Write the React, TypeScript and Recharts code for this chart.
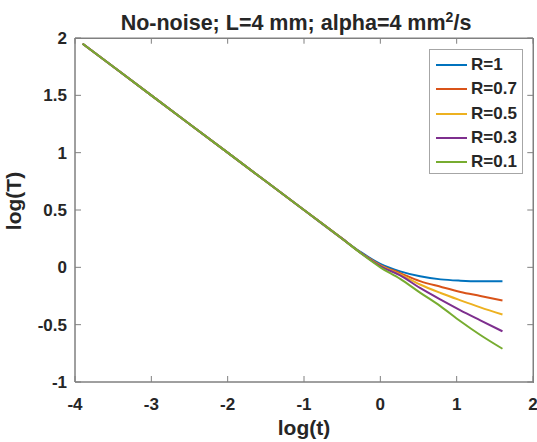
import React from 'react';
import { LineChart, Line, XAxis, YAxis, ReferenceArea, ReferenceLine } from 'recharts';

const xValues = [-3.9, -3, -2, -1, -0.5, -0.25, 0, 0.26, 0.52, 0.79, 1.05, 1.31, 1.6];
const r1 = [1.95, 1.5, 1.0, 0.5, 0.25, 0.13, 0.03, -0.035, -0.078, -0.105, -0.116, -0.121, -0.122];
const r07 = [1.95, 1.5, 1.0, 0.5, 0.25, 0.125, 0.02, -0.05, -0.12, -0.17, -0.215, -0.25, -0.29];
const r05 = [1.95, 1.5, 1.0, 0.5, 0.25, 0.123, 0.015, -0.062, -0.15, -0.224, -0.288, -0.349, -0.412];
const r03 = [1.95, 1.5, 1.0, 0.5, 0.25, 0.122, 0.01, -0.07, -0.18, -0.282, -0.375, -0.462, -0.558];
const r01 = [1.95, 1.5, 1.0, 0.5, 0.25, 0.12, 0.0, -0.1, -0.22, -0.34, -0.47, -0.59, -0.71];

const seriesNames = ['R=1', 'R=0.7', 'R=0.5', 'R=0.3', 'R=0.1'];
const seriesColors = ['#0072BD', '#D95319', '#EDB120', '#7E2F8E', '#77AC30'];
const seriesValues = [r1, r07, r05, r03, r01];

const xTicks = [-4, -3, -2, -1, 0, 1, 2];
const yTicks = [-1, -0.5, 0, 0.5, 1, 1.5, 2];
const xDomain: [number, number] = [-4, 2];
const yDomain: [number, number] = [-1, 2];

const data = xValues.map((x, i) => {
  const row: Record<string, number> = { x };
  seriesNames.forEach((n, k) => {
    row[n] = seriesValues[k][i];
  });
  return row;
});

const AXIS = '#808080';
const TEXT = '#262626';
const FONT = 'Liberation Sans, Arial, sans-serif';

const TOP_TICK_LEN = 0.05;
const RIGHT_TICK_LEN = 0.075;

const BottomTick = (props: any) => {
  const { x, y, payload } = props;
  return (
    <g>
      <path d={`M${x},${y}L${x},${y - 6}`} stroke={AXIS} strokeWidth={1} fill="none" />
      <text x={x} y={y + 28} textAnchor="middle" fontFamily={FONT} fontWeight="bold" fontSize={17} fill={TEXT}>
        {payload.value}
      </text>
    </g>
  );
};

const LeftTick = (props: any) => {
  const { x, y, payload } = props;
  return (
    <g>
      <path d={`M${x},${y}L${x + 6},${y}`} stroke={AXIS} strokeWidth={1} fill="none" />
      <text x={x - 8} y={y + 6} textAnchor="end" fontFamily={FONT} fontWeight="bold" fontSize={17} fill={TEXT}>
        {payload.value}
      </text>
    </g>
  );
};

const LegendBox = () => (
  <div
    style={{
      position: 'absolute',
      left: 429,
      top: 49,
      width: 94,
      height: 125,
      boxSizing: 'border-box',
      border: '1px solid #a6a6a6',
      background: '#fff',
    }}
  >
    {seriesNames.map((n, i) => (
      <div
        key={n}
        style={{
          position: 'absolute',
          left: 6,
          top: 4 + i * 24.3,
          height: 22,
          display: 'flex',
          alignItems: 'center',
        }}
      >
        <svg width={32} height={4} style={{ display: 'block' }}>
          <line x1={0} x2={31} y1={2} y2={2} stroke={seriesColors[i]} strokeWidth={2} />
        </svg>
        <span
          style={{
            marginLeft: 3,
            fontFamily: FONT,
            fontWeight: 'bold',
            fontSize: 17,
            color: TEXT,
            lineHeight: '22px',
          }}
        >
          {n}
        </span>
      </div>
    ))}
  </div>
);

export default function App() {
  return (
    <div style={{ position: 'absolute', left: 0, top: 0, width: 537, height: 442, background: '#fff' }}>
      <LineChart
        width={537}
        height={442}
        data={data}
        margin={{ top: 38, right: 4, bottom: 0, left: 0 }}
      >
        <XAxis
          dataKey="x"
          type="number"
          domain={xDomain}
          ticks={xTicks}
          allowDataOverflow
          height={60}
          tickSize={0}
          tickMargin={0}
          tickLine={false}
          axisLine={{ stroke: AXIS, strokeWidth: 1 }}
          tick={<BottomTick />}
          interval={0}
        />
        <YAxis
          type="number"
          domain={yDomain}
          ticks={yTicks}
          allowDataOverflow
          width={75}
          tickSize={0}
          tickMargin={0}
          tickLine={false}
          axisLine={{ stroke: AXIS, strokeWidth: 1 }}
          tick={<LeftTick />}
          interval={0}
        />
        <ReferenceArea
          x1={xDomain[0]}
          x2={xDomain[1]}
          y1={yDomain[0]}
          y2={yDomain[1]}
          fill="#ffffff"
          fillOpacity={0}
          stroke={AXIS}
          strokeWidth={1}
          ifOverflow="extendDomain"
        />
        {xTicks.map((t) => (
          <ReferenceLine
            key={'tx' + t}
            segment={[
              { x: t, y: yDomain[1] },
              { x: t, y: yDomain[1] - TOP_TICK_LEN },
            ]}
            stroke={AXIS}
            strokeWidth={1}
            ifOverflow="extendDomain"
          />
        ))}
        {yTicks.map((t) => (
          <ReferenceLine
            key={'ty' + t}
            segment={[
              { x: xDomain[1], y: t },
              { x: xDomain[1] - RIGHT_TICK_LEN, y: t },
            ]}
            stroke={AXIS}
            strokeWidth={1}
            ifOverflow="extendDomain"
          />
        ))}
        {seriesNames.map((n, k) => (
          <Line
            key={n}
            type="monotone"
            dataKey={n}
            name={n}
            stroke={seriesColors[k]}
            strokeWidth={2}
            dot={false}
            activeDot={false}
            isAnimationActive={false}
          />
        ))}
      </LineChart>
      <div
        style={{
          position: 'absolute',
          left: 75,
          top: 38,
          width: 459,
          height: 345,
          boxSizing: 'border-box',
          borderTop: `1px solid ${AXIS}`,
          borderRight: `1px solid ${AXIS}`,
          pointerEvents: 'none',
        }}
      />
      <LegendBox />
      <div
        style={{
          position: 'absolute',
          left: 0,
          width: 592,
          top: 10,
          textAlign: 'center',
          fontFamily: FONT,
          fontWeight: 'bold',
          fontSize: 21.5,
          color: TEXT,
          lineHeight: '26px',
          whiteSpace: 'nowrap',
        }}
      >
        No-noise; L=4 mm; alpha=4 mm<sup style={{ fontSize: 14, verticalAlign: 'top', position: 'relative', top: -6 }}>2</sup>/s
      </div>
      <div
        style={{
          position: 'absolute',
          left: 0,
          width: 608,
          top: 416,
          textAlign: 'center',
          fontFamily: FONT,
          fontWeight: 'bold',
          fontSize: 21,
          color: TEXT,
          lineHeight: '24px',
        }}
      >
        log(t)
      </div>
      <div
        style={{
          position: 'absolute',
          left: 14,
          top: 201,
          transform: 'translate(-50%, -50%) rotate(-90deg)',
          fontFamily: FONT,
          fontWeight: 'bold',
          fontSize: 21,
          color: TEXT,
          lineHeight: '24px',
          whiteSpace: 'nowrap',
        }}
      >
        log(T)
      </div>
    </div>
  );
}
